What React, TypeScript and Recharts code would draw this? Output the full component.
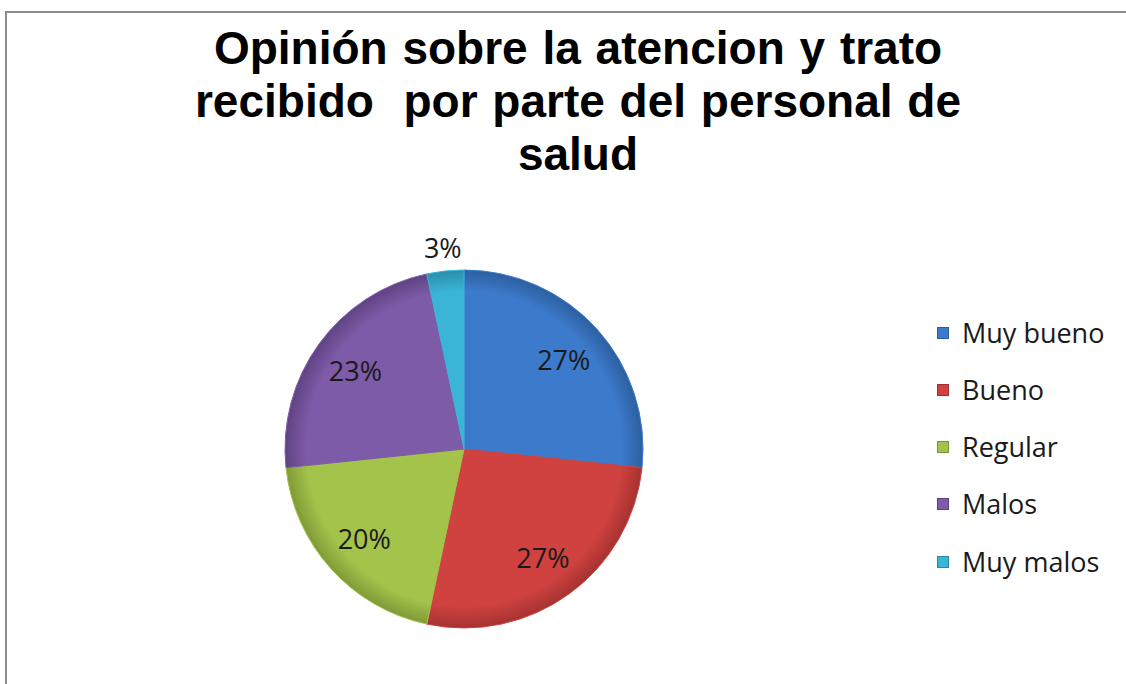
import React from "react";
import { PieChart, Pie, Cell, Legend } from "recharts";

const categories = ["Muy bueno", "Bueno", "Regular", "Malos", "Muy malos"];
const counts = [8, 8, 6, 7, 1];
const colors = ["#3c7bcc", "#cf4240", "#a3c34b", "#7e5ba8", "#3ab5d6"];
const rimColors = ["#2d5f9f", "#a63230", "#809a37", "#5f4383", "#2a8eaa"];
const titleLines = ["Opinión sobre la atencion y trato", "recibido  por parte del personal de", "salud"];

const data = categories.map((name, i) => ({ name, value: counts[i] }));

const RAD = Math.PI / 180;
const FONT = "'Open Sans', sans-serif";

const renderLabel = (props: any) => {
  const { cx, cy, midAngle, outerRadius, percent } = props;
  const r = percent < 0.05 ? outerRadius + 24 : outerRadius * 0.75;
  const x = cx + r * Math.cos(-midAngle * RAD);
  const y = cy + r * Math.sin(-midAngle * RAD);
  return (
    <text
      x={x}
      y={y}
      textAnchor="middle"
      dominantBaseline="central"
      fill="#1a1a1a"
      style={{ fontFamily: FONT, fontSize: 27 }}
    >
      {Math.round(percent * 100) + "%"}
    </text>
  );
};

const renderLegend = (props: any) => {
  const { payload } = props;
  return (
    <div style={{ display: "flex", flexDirection: "column" }}>
      {(payload || []).map((entry: any, i: number) => (
        <div
          key={i}
          style={{ height: 57.25, display: "flex", alignItems: "center" }}
        >
          <span
            style={{
              display: "inline-block",
              width: 12,
              height: 12,
              background: entry.color,
              boxShadow: "inset 0 0 0 1px rgba(0,0,0,0.25)",
              marginRight: 13,
            }}
          />
          <span style={{ fontFamily: FONT, fontSize: 27, color: "#1a1a1a", lineHeight: "30px" }}>
            {entry.value}
          </span>
        </div>
      ))}
    </div>
  );
};

export default function App() {
  return (
    <div style={{ position: "absolute", left: 0, top: 0, width: 1126, height: 684, overflow: "hidden", background: "#fff" }}>
      <div
        style={{
          position: "absolute",
          left: 5,
          top: 11,
          width: 1200,
          height: 800,
          border: "2px solid #8c8c8c",
          boxSizing: "border-box",
        }}
      />
      <div
        style={{
          position: "absolute",
          left: 78,
          top: 22,
          width: 1000,
          textAlign: "center",
          fontFamily: "'Liberation Sans', Arial, sans-serif",
          fontWeight: "bold",
          fontSize: 46,
          lineHeight: "53px",
          wordSpacing: "2px",
          color: "#000",
          whiteSpace: "pre",
        }}
      >
        {titleLines.map((l, i) => (
          <div key={i}>{l}</div>
        ))}
      </div>
      <div style={{ position: "absolute", left: 0, top: 0 }}>
        <PieChart width={1126} height={684} margin={{ top: 0, right: 0, bottom: 0, left: 0 }}>
          <defs>
            {colors.map((c, i) => (
              <radialGradient
                key={i}
                id={"g" + i}
                gradientUnits="userSpaceOnUse"
                cx={464}
                cy={449}
                r={179}
              >
                <stop offset="0%" stopColor={c} />
                <stop offset="88%" stopColor={c} />
                <stop offset="100%" stopColor={rimColors[i]} />
              </radialGradient>
            ))}
          </defs>
          <Pie
            data={data}
            dataKey="value"
            nameKey="name"
            cx={464}
            cy={449}
            outerRadius={179}
            startAngle={90}
            endAngle={-270}
            isAnimationActive={false}
            label={renderLabel}
            labelLine={false}
            stroke="#ffffff"
            strokeWidth={1}
          >
            {data.map((d, i) => (
              <Cell key={d.name} fill={`url(#g${i})`} stroke={colors[i]} />
            ))}
          </Pie>
          <Legend
            layout="vertical"
            verticalAlign="top"
            align="right"
            content={(p: any) =>
              renderLegend({
                payload: data.map((d, i) => ({ value: d.name, color: colors[i] })),
              })
            }
            wrapperStyle={{ position: "absolute", left: 937, top: 304, width: 190 }}
          />
        </PieChart>
      </div>
    </div>
  );
}
